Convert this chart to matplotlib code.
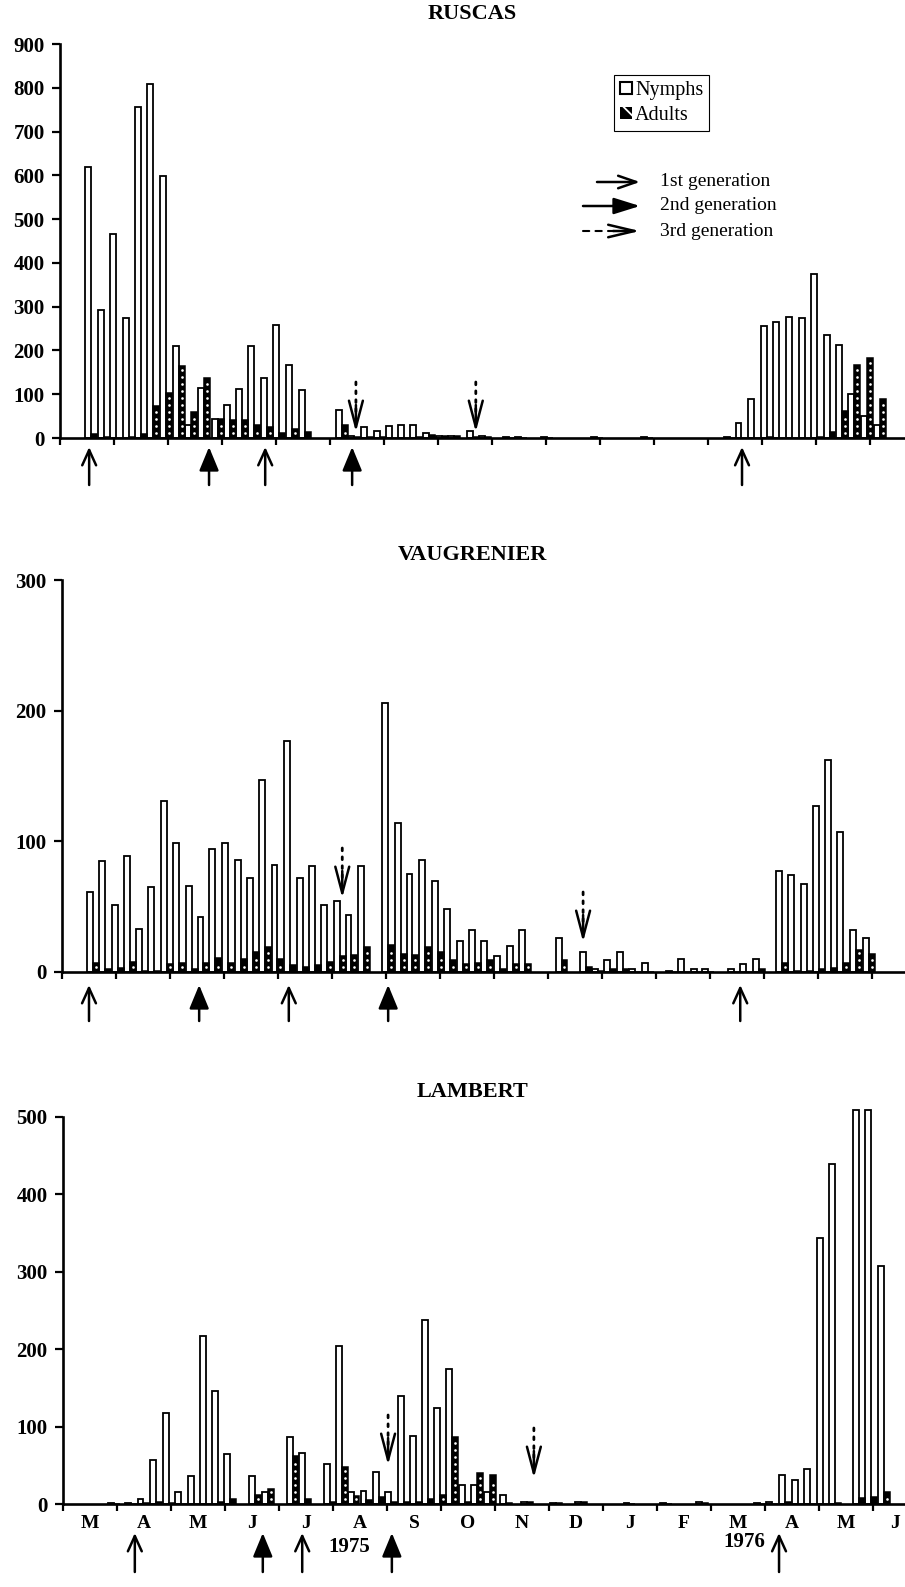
import numpy as np
import matplotlib
matplotlib.use("Agg")
from matplotlib import pyplot as plt
from matplotlib.patches import Patch

plt.rcParams['font.family'] = ['Liberation Serif', 'DejaVu Serif']
plt.rcParams['hatch.linewidth'] = 1.3

# sampling dates, in months from 1 March 1975, and counts per sample
ru_pos = [0.57, 0.81, 1.04, 1.27, 1.50, 1.73, 1.96, 2.20, 2.43, 2.66,
          2.92, 3.14, 3.37, 3.60, 3.83, 4.06, 4.30, 4.53,
          5.22, 5.45, 5.69, 5.92, 6.14, 6.37, 6.60, 6.83, 7.07, 7.30,
          7.65, 7.87, 8.31, 8.54, 9.02, 9.94, 10.87,
          12.41, 12.62, 12.85, 13.09, 13.32, 13.56, 13.79, 14.02, 14.25, 14.48,
          14.71, 14.94, 15.18]
ru_nymph = [620, 292, 467, 274, 755, 808, 598, 210, 30, 115,
            44, 76, 111, 210, 137, 258, 166, 110,
            64, 4, 24, 15, 28, 30, 30, 12, 5, 4,
            15, 4, 2, 3, 2, 2, 2,
            3, 35, 89, 256, 264, 276, 275, 375, 235, 212,
            100, 50, 30]
ru_adult = [8, 3, 0, 3, 10, 72, 103, 164, 59, 137,
            44, 40, 42, 29, 25, 11, 21, 13,
            29, 3, 3, 2, 1, 1, 2, 6, 4, 4,
            2, 3, 1, 1, 0, 0, 0,
            1, 0, 0, 2, 1, 1, 1, 2, 13, 61,
            166, 183, 90]

va_pos = [0.57, 0.80, 1.03, 1.26, 1.48, 1.71, 1.94, 2.17, 2.40, 2.62,
          2.84, 3.08, 3.31, 3.54, 3.76, 3.99, 4.22, 4.46, 4.69, 4.91,
          5.14, 5.36, 5.59,
          6.04, 6.27, 6.49, 6.72, 6.96, 7.19, 7.42, 7.64, 7.87, 8.11,
          8.35, 8.57,
          9.25, 9.70, 9.93, 10.15, 10.38, 10.61, 10.85, 11.30, 11.52, 11.75,
          11.96, 12.45, 12.67, 12.90,
          13.33, 13.56, 13.79, 14.01, 14.24, 14.47, 14.70, 14.94]
va_nymph = [61, 85, 51, 89, 33, 65, 131, 99, 66, 42,
            94, 99, 86, 72, 147, 82, 177, 72, 81, 51,
            54, 44, 81,
            206, 114, 75, 86, 70, 48, 24, 32, 24, 12,
            20, 32,
            26, 15, 2, 9, 15, 2, 7, 1, 10, 2,
            2, 2, 6, 10,
            77, 74, 67, 127, 162, 107, 32, 26]
va_adult = [7, 2, 3, 8, 1, 1, 6, 7, 2, 7,
            11, 7, 10, 15, 19, 10, 5, 4, 5, 8,
            12, 13, 19,
            21, 14, 13, 19, 15, 9, 6, 7, 9, 2,
            6, 6,
            9, 4, 1, 2, 2, 0, 0, 0, 0, 0,
            0, 0, 0, 2,
            7, 1, 1, 2, 3, 7, 17, 14]

la_pos = [0.94, 1.26, 1.49, 1.72, 1.96, 2.18, 2.42, 2.64, 2.87, 3.10,
          3.56, 3.79, 4.25, 4.48, 4.94, 5.16, 5.38, 5.62, 5.85, 6.07,
          6.31, 6.54, 6.75, 6.98, 7.21, 7.45, 7.67, 7.91, 8.20, 8.60,
          9.13, 9.59, 10.49, 11.17, 11.84, 12.90, 13.13, 13.37, 13.61, 13.84,
          14.07, 14.30, 14.74, 14.96, 15.21]
la_nymph = [1, 1, 6, 57, 117, 16, 36, 217, 146, 65,
            36, 16, 86, 66, 52, 204, 16, 17, 41, 15,
            139, 88, 238, 124, 175, 24, 25, 16, 12, 2,
            1, 3, 1, 1, 2, 1, 2, 38, 31, 45,
            344, 439, 509, 509, 308]
la_adult = [0, 0, 1, 3, 1, 0, 0, 0, 2, 6,
            11, 19, 62, 7, 3, 48, 10, 5, 9, 2,
            3, 3, 7, 11, 86, 3, 40, 37, 1, 2,
            1, 2, 0, 0, 1, 0, 0, 3, 0, 0,
            0, 1, 8, 9, 16]

# generation arrows (months)
ru_gen1, ru_gen2, ru_gen3 = [0.54, 3.80, 12.63], [2.76, 5.41], [5.48, 7.70]
va_gen1, va_gen2, va_gen3 = [0.50, 4.20, 12.56], [2.54, 6.04], [5.19, 9.65]
la_gen1, la_gen2, la_gen3 = [1.33, 4.43, 13.26], [3.70, 6.09], [6.02, 8.72]

month_labels = ['M', 'A', 'M', 'J', 'J', 'A', 'S', 'O', 'N', 'D', 'J', 'F', 'M', 'A', 'M', 'J']
month_label_pos = [0.5, 1.5, 2.5, 3.5, 4.5, 5.5, 6.5, 7.5, 8.5, 9.5, 10.5, 11.5, 12.5, 13.5, 14.5, 15.4]

W, H = 905, 1587
MONTH_PX = 54.
BAR_W = 0.11

fig = plt.figure(figsize=(W / 100, H / 100), dpi=100)


def make_axes(left, top, bottom):
    ax = fig.add_axes([left / W, 1 - bottom / H, (W - left) / W, (bottom - top) / H])
    ax.set_xlim(0, (W - left) / MONTH_PX)
    return ax


def draw_panel(ax, pos, nymph, adult, ymax, title, title_y):
    x = np.array(pos)
    ax.bar(x - BAR_W / 2, nymph, width=BAR_W, facecolor='white', edgecolor='black',
           linewidth=1.3, clip_on=False, zorder=2)
    ax.bar(x + BAR_W / 2, adult, width=BAR_W, facecolor='black', edgecolor='black',
           linewidth=1.1, zorder=2)
    # white dotted texture of the adult bars, one column every ~7 px
    step = 7.0 * ymax / ax.bbox.height
    dx, dy = [], []
    for xi, v in zip(x, adult):
        ys = np.arange(step * 0.7, v - step * 0.4, step)
        dx += [xi + BAR_W / 2] * len(ys)
        dy += list(ys)
    ax.plot(dx, dy, 'o', ms=1.9, mfc='white', mec='none', zorder=2.5)
    ax.set_ylim(0, ymax)
    ax.set_yticks(np.arange(0, ymax + 1, 100))
    for s in ['top', 'right']:
        ax.spines[s].set_visible(False)
    for s in ['left', 'bottom']:
        ax.spines[s].set_linewidth(1.9)
        ax.spines[s].set_zorder(3)
    ax.tick_params(axis='y', direction='out', length=6, width=1.6, pad=5, labelsize=15)
    for lab in ax.get_yticklabels():
        lab.set_fontweight('bold')
    ax.set_xticks(np.arange(0, 16), minor=True)
    ax.tick_params(axis='x', which='minor', direction='out', length=5, width=1.6)
    ax.set_xticks([])
    fig.text(472 / W, 1 - title_y / H, title, ha='center', va='center',
             fontsize=16, fontweight='bold')


def up_arrow(ax, x, tip_px, length_px, filled):
    h = ax.bbox.height
    tr = ax.get_xaxis_transform()
    if filled:
        style = '-|>,head_length=1.45,head_width=0.6'
    else:
        style = '->,head_length=1.1,head_width=0.5'
    ax.annotate('', xy=(x, -tip_px / h), xycoords=tr,
                xytext=(x, -(tip_px + length_px) / h), textcoords=tr,
                arrowprops=dict(arrowstyle=style, lw=1.8, color='black',
                                shrinkA=0, shrinkB=0, mutation_scale=10),
                annotation_clip=False)


def down_arrow(ax, x, tip_px):
    h = ax.bbox.height
    tr = ax.get_xaxis_transform()
    ax.annotate('', xy=(x, tip_px / h), xycoords=tr,
                xytext=(x, (tip_px + 27) / h), textcoords=tr,
                arrowprops=dict(arrowstyle='->,head_length=1.9,head_width=0.5', lw=1.8,
                                color='black', shrinkA=0, shrinkB=0, mutation_scale=10),
                annotation_clip=False)
    ax.annotate('', xy=(x, (tip_px + 20) / h), xycoords=tr,
                xytext=(x, (tip_px + 50) / h), textcoords=tr,
                arrowprops=dict(arrowstyle='-', lw=2.0, linestyle=(0, (1, 2.2)),
                                color='black', shrinkA=0, shrinkB=0),
                annotation_clip=False)


def all_arrows(ax, gen1, gen2, gen3, below_px, length_px, gen3_px):
    for g in gen1:
        up_arrow(ax, g, below_px, length_px, False)
    for g in gen2:
        up_arrow(ax, g, below_px, length_px, True)
    for g, t in zip(gen3, gen3_px):
        down_arrow(ax, g, t)


ax1 = make_axes(60, 44, 438)
draw_panel(ax1, ru_pos, ru_nymph, ru_adult, 900, 'RUSCAS', 14)
all_arrows(ax1, ru_gen1, ru_gen2, ru_gen3, 9, 38, [6, 6])

ax2 = make_axes(62, 580, 972)
draw_panel(ax2, va_pos, va_nymph, va_adult, 300, 'VAUGRENIER', 555)
all_arrows(ax2, va_gen1, va_gen2, va_gen3, 13, 36, [74, 30])

ax3 = make_axes(63, 1117, 1504)
draw_panel(ax3, la_pos, la_nymph, la_adult, 500, 'LAMBERT', 1092)
all_arrows(ax3, la_gen1, la_gen2, la_gen3, 29, 39, [39, 26])
ax3.set_xticks(month_label_pos)
ax3.set_xticklabels(month_labels, fontsize=14, fontweight='bold')
ax3.tick_params(axis='x', which='major', length=0, pad=8)
ax3.text(5.31, -0.111, '1975', transform=ax3.get_xaxis_transform(), ha='center', va='center',
         fontsize=15, fontweight='bold')
ax3.text(12.61, -0.098, '1976', transform=ax3.get_xaxis_transform(), ha='center', va='center',
         fontsize=15, fontweight='bold')

# legend box
leg = fig.legend(handles=[Patch(facecolor='white', edgecolor='black', linewidth=1.5),
                          Patch(facecolor='black', edgecolor='white', hatch='\\\\', linewidth=0)],
                 labels=['Nymphs', 'Adults'], loc='upper left',
                 bbox_to_anchor=(614 / W, 1 - 75 / H), frameon=True, fancybox=False,
                 edgecolor='black', framealpha=1, handlelength=0.6, handleheight=0.6,
                 handletextpad=0.15, borderpad=0.3, labelspacing=0.3, fontsize=14.5,
                 borderaxespad=0)
leg.get_frame().set_linewidth(0.8)

# generation key
key_y = [182, 206, 231]
key_text = ['1st generation', '2nd generation', '3rd generation']
fy = [1 - v / H for v in key_y]
ax1.annotate('', xy=(640 / W, fy[0]), xycoords='figure fraction', xytext=(597 / W, fy[0]),
             arrowprops=dict(arrowstyle='->,head_length=1.3,head_width=0.45', lw=1.8, color='black',
                             shrinkA=0, shrinkB=0, mutation_scale=10), annotation_clip=False)
ax1.annotate('', xy=(640 / W, fy[1]), xycoords='figure fraction', xytext=(583 / W, fy[1]),
             arrowprops=dict(arrowstyle='-|>,head_length=1.6,head_width=0.5', lw=1.8, color='black',
                             shrinkA=0, shrinkB=0, mutation_scale=10), annotation_clip=False)
ax1.annotate('', xy=(640 / W, fy[2]), xycoords='figure fraction', xytext=(613 / W, fy[2]),
             arrowprops=dict(arrowstyle='->,head_length=1.9,head_width=0.45', lw=1.8, color='black',
                             shrinkA=0, shrinkB=0, mutation_scale=10), annotation_clip=False)
ax1.annotate('', xy=(618 / W, fy[2]), xycoords='figure fraction', xytext=(583 / W, fy[2]),
             arrowprops=dict(arrowstyle='-', lw=1.5, linestyle=(0, (3, 3)), color='black',
                             shrinkA=0, shrinkB=0), annotation_clip=False)
for t, y in zip(key_text, fy):
    fig.text(660 / W, y, t, ha='left', va='center', fontsize=14)

fig.savefig('out.png', dpi=100)
